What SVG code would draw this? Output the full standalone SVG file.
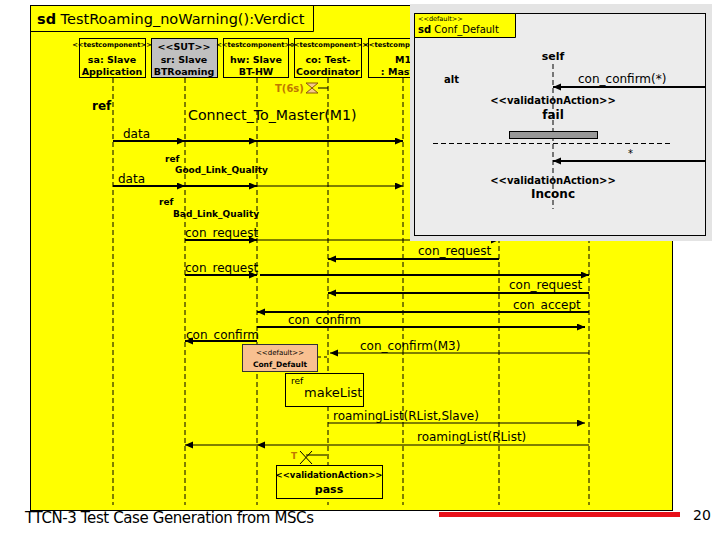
<svg xmlns="http://www.w3.org/2000/svg" width="720" height="540" viewBox="0 0 720 540">
<defs>
<style>
text{font-family:"DejaVu Sans","Liberation Sans",sans-serif;fill:#000}
.b{font-weight:bold}
.st{font-size:6.7px;font-weight:bold}
.hn{font-size:9.5px;font-weight:bold}
.msg{font-size:12px}
.ll{stroke:#000;stroke-width:1;stroke-dasharray:5,3;fill:none}
.m2{stroke:#000;stroke-width:2;fill:none}
.m1{stroke:#000;stroke-width:1;fill:none}
.head{fill:#ffff00;stroke:#000;stroke-width:1}
.tim{fill:#c07800}
</style>
<marker id="ah" markerUnits="userSpaceOnUse" markerWidth="10" markerHeight="8" refX="8" refY="3.5" orient="auto"><path d="M0,0 L8,3.5 L0,7 z" fill="#000"/></marker>
<clipPath id="cco"><rect x="294" y="38" width="67" height="39"/></clipPath>
</defs>

<!-- footer text under frame -->
<text x="25" y="523" font-size="15" textLength="289" fill="#222">TTCN-3 Test Case Generation from MSCs</text>

<g id="frame">
<rect x="30.5" y="5.5" width="642" height="505" fill="#ffff00" stroke="#000"/>
<path d="M30.5,31.5 H313.5 V5.5" fill="none" stroke="#000"/>
<text x="37" y="24" font-size="14.5"><tspan class="b">sd</tspan> TestRoaming_noWarning():Verdict</text>
</g>

<g id="lifelines">
<g id="sa">
<rect class="head" x="79.5" y="38.5" width="66" height="39"/>
<text class="st" x="112" y="47" text-anchor="middle">&lt;&lt;testcomponent&gt;&gt;</text>
<text class="hn" x="112" y="63" text-anchor="middle">sa: Slave</text>
<text class="hn" x="112" y="75" text-anchor="middle">Application</text>
<line class="ll" x1="113" y1="78" x2="113" y2="505"/>
</g>
<g id="sr">
<rect x="151.5" y="38.5" width="66" height="39" fill="#c0c0c0" stroke="#000"/>
<text class="hn" x="184" y="50" text-anchor="middle">&lt;&lt;SUT&gt;&gt;</text>
<text class="hn" x="184" y="63" text-anchor="middle">sr: Slave</text>
<text class="hn" x="184" y="75" text-anchor="middle">BTRoaming</text>
<line class="ll" x1="185" y1="78" x2="185" y2="505"/>
</g>
<g id="hw">
<rect class="head" x="223.5" y="38.5" width="65" height="39"/>
<text class="st" x="256" y="47" text-anchor="middle">&lt;&lt;testcomponent&gt;&gt;</text>
<text class="hn" x="256" y="63" text-anchor="middle">hw: Slave</text>
<text class="hn" x="256" y="75" text-anchor="middle">BT-HW</text>
<line class="ll" x1="257" y1="78" x2="257" y2="505"/>
</g>
<g id="co">
<rect class="head" x="294.5" y="38.5" width="67" height="39"/>
<text class="st" x="328" y="47" text-anchor="middle">&lt;&lt;testcomponent&gt;&gt;</text>
<text class="hn" x="328" y="63" text-anchor="middle">co: Test-</text>
<text class="hn" x="296" y="75" clip-path="url(#cco)">Coordinator</text>
<line class="ll" x1="328" y1="78" x2="328" y2="505"/>
</g>
<g id="M1">
<rect class="head" x="368.5" y="38.5" width="70" height="39"/>
<text class="st" x="403" y="47" text-anchor="middle">&lt;&lt;testcomponent&gt;&gt;</text>
<text class="hn" x="403" y="63" text-anchor="middle">M1</text>
<text class="hn" x="403" y="75" text-anchor="middle">: Master</text>
<line class="ll" x1="403" y1="78" x2="403" y2="505"/>
</g>
<g id="L6"><line class="ll" x1="499" y1="78" x2="499" y2="505"/></g>
<g id="L7"><line class="ll" x1="589" y1="78" x2="589" y2="505"/></g>
</g>

<g id="refs">
<g id="ref-connect">
<text class="b" x="92" y="110" font-size="12">ref</text>
<text x="188" y="120" font-size="14.2">Connect_To_Master(M1)</text>
</g>
<g id="ref-good">
<text class="b" x="165" y="162" font-size="9">ref</text>
<text class="b" x="175" y="173" font-size="9">Good_Link_Quality</text>
</g>
<g id="ref-bad">
<text class="b" x="159" y="205" font-size="9">ref</text>
<text class="b" x="173" y="217" font-size="9">Bad_Link_Quality</text>
</g>
<g id="default-box">
<rect x="242.5" y="344.5" width="75" height="27" fill="#f8c090" stroke="#333"/>
<text x="280" y="355" font-size="7" text-anchor="middle">&lt;&lt;default&gt;&gt;</text>
<text class="b" x="280" y="367" font-size="7.5" text-anchor="middle">Conf_Default</text>
</g>
<g id="ref-makelist">
<rect x="285.5" y="373.5" width="78" height="33" fill="#ffff00" stroke="#000"/>
<text x="291" y="384" font-size="9">ref</text>
<text x="304" y="397" font-size="13">makeList</text>
</g>
<g id="pass">
<rect x="276.5" y="465.5" width="106" height="33" fill="#ffff00" stroke="#000"/>
<text class="b" x="329" y="478" font-size="8.5" text-anchor="middle">&lt;&lt;validationAction&gt;&gt;</text>
<text class="b" x="329" y="493" font-size="11" text-anchor="middle">pass</text>
</g>
<g id="timer-set">
<text class="b tim" x="275" y="92" font-size="10">T(6s)</text>
<path d="M306,83 L318,83 L306,93 L318,93 Z" fill="#f5c98a" stroke="#8a5a00"/>
<line class="m1" x1="318" y1="88" x2="328" y2="88"/>
</g>
<g id="timer-timeout">
<text class="b tim" x="291" y="459" font-size="9">T</text>
<path d="M300,451 L312,464 M300,464 L312,451 M306,455 H327" class="m1"/>
</g>
</g>

<g id="connectors">
<text class="msg" x="123" y="138">data</text>
<line class="m2" x1="113" y1="141" x2="185" y2="141" marker-end="url(#ah)"/>
<line class="m2" x1="185" y1="141" x2="257" y2="141" marker-end="url(#ah)"/>
<line class="m2" x1="257" y1="141" x2="403" y2="141" marker-end="url(#ah)"/>

<text class="msg" x="118" y="183">data</text>
<line class="m2" x1="113" y1="186" x2="185" y2="186" marker-end="url(#ah)"/>
<line class="m2" x1="185" y1="186" x2="257" y2="186" marker-end="url(#ah)"/>
<line class="m1" x1="257" y1="186" x2="403" y2="186" marker-end="url(#ah)"/>

<text class="msg" x="185" y="237">con_request</text>
<line class="m2" x1="185" y1="240" x2="257" y2="240" marker-end="url(#ah)"/>
<line class="m1" x1="257" y1="240" x2="499" y2="240" marker-end="url(#ah)"/>

<text class="msg" x="418" y="255">con_request</text>
<line class="m2" x1="499" y1="259" x2="328" y2="259" marker-end="url(#ah)"/>

<text class="msg" x="185" y="272">con_request</text>
<line class="m2" x1="185" y1="275" x2="257" y2="275" marker-end="url(#ah)"/>
<line class="m2" x1="260" y1="275" x2="589" y2="275" marker-end="url(#ah)"/>

<text class="msg" x="509" y="289">con_request</text>
<line class="m2" x1="589" y1="293" x2="328" y2="293" marker-end="url(#ah)"/>

<text class="msg" x="513" y="309">con_accept</text>
<line class="m2" x1="589" y1="312" x2="257" y2="312" marker-end="url(#ah)"/>

<text class="msg" x="288" y="324">con_confirm</text>
<line class="m2" x1="257" y1="327" x2="585" y2="327" marker-end="url(#ah)"/>

<text class="msg" x="186" y="339">con_confirm</text>
<line class="m2" x1="257" y1="341" x2="185" y2="341" marker-end="url(#ah)"/>

<text class="msg" x="360" y="350">con_confirm(M3)</text>
<line class="m1" x1="589" y1="353" x2="330" y2="353" marker-end="url(#ah)"/>
<path d="M318,357 H328" class="m1" stroke-dasharray="3,3"/>

<text class="msg" x="333" y="420">roamingList(RList,Slave)</text>
<line class="m1" x1="328" y1="423" x2="585" y2="423" marker-end="url(#ah)"/>

<text class="msg" x="417" y="441">roamingList(RList)</text>
<line class="m1" x1="589" y1="445" x2="257" y2="445" marker-end="url(#ah)"/>
<line class="m1" x1="257" y1="445" x2="185" y2="445" marker-end="url(#ah)"/>
</g>

<g id="conf-default-overlay">
<rect x="410" y="4" width="302" height="237" fill="#e4e4e4"/>
<rect x="414.5" y="13.5" width="291" height="222" fill="#ececec" stroke="#000"/>
<path d="M414.5,37.5 H515.5 V13.5 H414.5 Z" fill="#ffff00" stroke="#000"/>
<text x="418" y="21" font-size="6.5">&lt;&lt;default&gt;&gt;</text>
<text x="418" y="33" font-size="10"><tspan class="b">sd</tspan> Conf_Default</text>
<text class="b" x="553" y="60" font-size="11" text-anchor="middle">self</text>
<line class="ll" x1="553" y1="64" x2="553" y2="209"/>
<text class="b" x="444" y="83" font-size="10">alt</text>
<text class="msg" x="578" y="83">con_confirm(*)</text>
<line class="m2" x1="705" y1="87" x2="553" y2="87" marker-end="url(#ah)"/>
<text class="b" x="553" y="104" font-size="10" text-anchor="middle">&lt;&lt;validationAction&gt;&gt;</text>
<text class="b" x="553" y="119" font-size="12" text-anchor="middle">fail</text>
<rect x="509.5" y="131.5" width="88" height="7" fill="#999" stroke="#000"/>
<line class="ll" x1="433" y1="143.5" x2="673" y2="143.5"/>
<text x="628" y="157" font-size="10">*</text>
<line class="m2" x1="705" y1="161" x2="553" y2="161" marker-end="url(#ah)"/>
<text class="b" x="553" y="184" font-size="10" text-anchor="middle">&lt;&lt;validationAction&gt;&gt;</text>
<text class="b" x="553" y="198" font-size="12" text-anchor="middle">Inconc</text>
</g>

<g id="footer">
<rect x="439" y="512" width="241" height="5" fill="#e8101a"/>
<text x="693" y="520" font-size="14">20</text>
</g>
</svg>
